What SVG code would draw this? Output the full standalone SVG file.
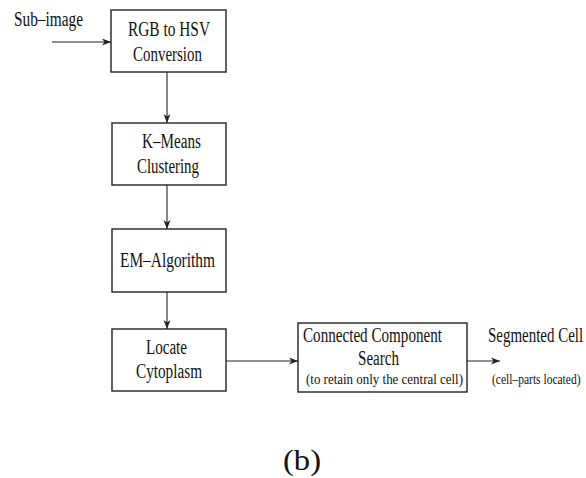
<svg xmlns="http://www.w3.org/2000/svg" width="586" height="478" viewBox="0 0 586 478">
<style>
.box{fill:#fff;stroke:#222;stroke-width:1.4}
.t{font-family:"Liberation Serif","Times New Roman",serif;font-size:20.5px;fill:#111;text-anchor:start}
.s{font-family:"Liberation Serif","Times New Roman",serif;font-size:14.5px;fill:#111;text-anchor:start}
.c{stroke:#222;stroke-width:1.1;fill:none;marker-end:url(#ah)}
</style>
<defs>
<marker id="ah" markerWidth="10" markerHeight="8" refX="9" refY="4" orient="auto" markerUnits="userSpaceOnUse">
<path d="M0,0.5 L9,4 L0,7.5 L2.5,4 z" fill="#222"/>
</marker>
</defs>
<g id="connectors">
<line class="c" x1="52" y1="42" x2="111" y2="42"/>
<line class="c" x1="167" y1="72" x2="167" y2="123"/>
<line class="c" x1="167" y1="185" x2="167" y2="229"/>
<line class="c" x1="167" y1="292" x2="167" y2="329"/>
<line class="c" x1="226" y1="361" x2="298" y2="361"/>
<line class="c" x1="467" y1="361" x2="500" y2="361"/>
</g>
<g id="subimage">
<text class="t" x="14" y="26" textLength="69" lengthAdjust="spacingAndGlyphs">Sub–image</text>
</g>
<g id="rgb">
<rect class="box" x="111" y="10" width="115" height="62"/>
<text class="t" x="128" y="36" textLength="82" lengthAdjust="spacingAndGlyphs">RGB to HSV</text>
<text class="t" x="133" y="61" textLength="69" lengthAdjust="spacingAndGlyphs">Conversion</text>
</g>
<g id="kmeans">
<rect class="box" x="112" y="123" width="114" height="62"/>
<text class="t" x="142" y="148" textLength="59" lengthAdjust="spacingAndGlyphs">K–Means</text>
<text class="t" x="137" y="173" textLength="62" lengthAdjust="spacingAndGlyphs">Clustering</text>
</g>
<g id="em">
<rect class="box" x="112" y="229" width="114" height="63"/>
<text class="t" x="120" y="267" textLength="95" lengthAdjust="spacingAndGlyphs">EM–Algorithm</text>
</g>
<g id="locate">
<rect class="box" x="112" y="329" width="114" height="62"/>
<text class="t" x="146" y="354" textLength="41" lengthAdjust="spacingAndGlyphs">Locate</text>
<text class="t" x="136" y="378" textLength="66" lengthAdjust="spacingAndGlyphs">Cytoplasm</text>
</g>
<g id="ccs">
<rect class="box" x="298" y="323" width="169" height="69"/>
<text class="t" x="303" y="342" textLength="139" lengthAdjust="spacingAndGlyphs">Connected Component</text>
<text class="t" x="358" y="365" textLength="41" lengthAdjust="spacingAndGlyphs">Search</text>
<text class="s" x="306" y="384" textLength="157" lengthAdjust="spacingAndGlyphs">(to retain only the  central cell)</text>
</g>
<g id="segmented">
<text class="t" transform="translate(488,342) scale(0.73,1)">Segmented Cell</text>
<text class="s" transform="translate(492,384) scale(0.795,1)">(cell–parts located)</text>
</g>
<text x="283" y="470" font-family="'Liberation Serif',serif" font-size="29" fill="#111" textLength="38" lengthAdjust="spacingAndGlyphs">(b)</text>
</svg>
